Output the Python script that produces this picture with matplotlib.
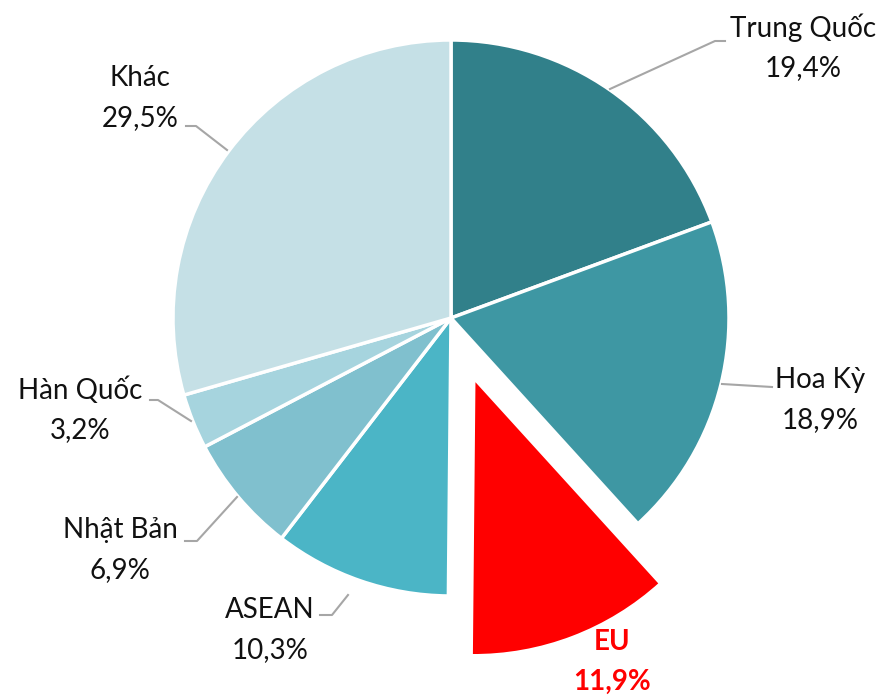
import matplotlib
matplotlib.use("Agg")
import matplotlib.pyplot as plt

labels = ["Trung Quốc", "Hoa Kỳ", "EU", "ASEAN", "Nhật Bản", "Hàn Quốc", "Khác"]
shares = [19.4, 18.9, 11.9, 10.3, 6.9, 3.2, 29.5]
pct_text = ["19,4%", "18,9%", "11,9%", "10,3%", "6,9%", "3,2%", "29,5%"]
colors = ["#31808A", "#3E97A3", "#FF0000", "#4BB5C6", "#80C0CE", "#A6D4DE", "#C5E0E6"]
explode = [0, 0, 0.23, 0, 0, 0, 0]

plt.rcParams['font.family'] = ['Lato', 'DejaVu Sans']

W, H = 885, 697
CX, CY, R = 451, 318, 278

def px(x, y):
    # pixel position -> data coords (pie radius = 1)
    return (x - CX) / R, (CY - y) / R

fig = plt.figure(figsize=(W / 100, H / 100), dpi=100)
ax = fig.add_axes([0, 0, 1, 1])
ax.pie(shares, colors=colors, explode=explode, startangle=90, counterclock=False,
       radius=1, wedgeprops=dict(edgecolor="white", linewidth=2.5))
ax.set_xlim(px(0, 0)[0], px(W, 0)[0])
ax.set_ylim(px(0, H)[1], px(0, 0)[1])
ax.set_aspect("equal")
ax.axis("off")

# label centres (name line, value line) and leader line points, in pixels
label_pos = [(803, 28), (820, 380), (612, 642), (270, 610), (120, 530), (80, 390), (140, 78)]
leaders = [
    [(610, 89), (715, 41), (725, 41)],
    [(722, 384), (772, 387)],
    None,
    [(348, 595), (332, 615), (320, 615)],
    [(237, 497), (197, 541), (185, 541)],
    [(191, 421), (158, 400), (150, 400)],
    [(227, 150), (196, 126), (186, 126)],
]

for i, name in enumerate(labels):
    x, y = label_pos[i]
    is_eu = name == "EU"
    col = "#FF0000" if is_eu else "#111111"
    wt = "bold" if is_eu else "normal"
    ax.text(*px(x, y), name, ha="center", va="center", fontsize=20, color=col, fontweight=wt)
    ax.text(*px(x, y + 40), pct_text[i], ha="center", va="center", fontsize=20, color=col, fontweight=wt)
    if leaders[i]:
        pts = [px(a, b) for a, b in leaders[i]]
        ax.plot([p[0] for p in pts], [p[1] for p in pts], color="#A6A6A6", lw=1.5)

fig.savefig("out.png", dpi=100)
